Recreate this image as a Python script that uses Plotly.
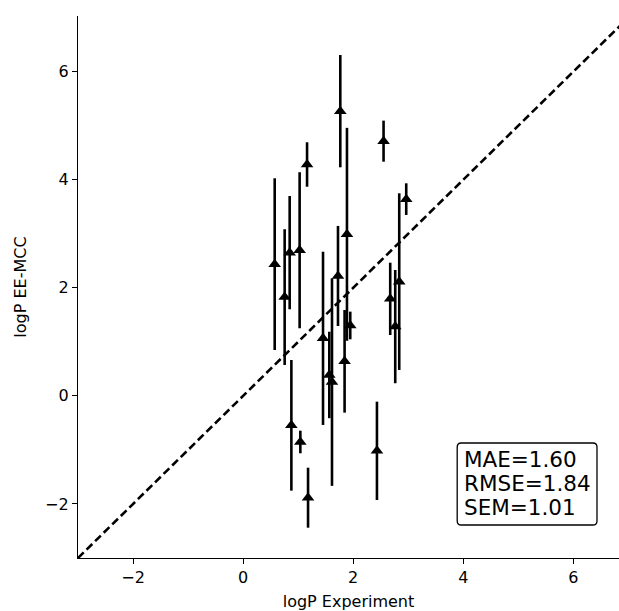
import plotly.graph_objects as go

# Data
x_exp = [0.574, 0.755, 0.846, 1.027, 1.162, 0.877, 1.040, 1.180, 1.452, 1.566, 1.615,
         1.724, 1.766, 1.844, 1.887, 1.947, 2.432, 2.552, 2.673, 2.764, 2.837, 2.964]
y_pred = [2.438, 1.828, 2.651, 2.695, 4.282, -0.545, -0.853, -1.884, 1.065, 0.387, 0.255,
          2.219, 5.269, 0.640, 2.990, 1.303, -1.017, 4.714, 1.796, 1.282, 2.114, 3.641]
y_err = [1.589, 1.256, 1.048, 1.444, 0.411, 1.209, 0.209, 0.555, 1.603, 0.800, 1.920,
         0.926, 1.039, 0.950, 1.970, 0.256, 0.910, 0.380, 0.669, 1.048, 1.635, 0.293]
diag = [-3, 7]
stats_text = ["MAE=1.60", "RMSE=1.84", "SEM=1.01"]
tick_vals = [-2, 0, 2, 4, 6]

FONT = "DejaVu Sans"

fig = go.Figure()

fig.add_trace(go.Scatter(
    x=x_exp, y=y_pred, mode="markers",
    marker=dict(symbol="triangle-up", size=11, color="black", line=dict(width=0)),
    error_y=dict(type="data", array=y_err, visible=True, color="black",
                 thickness=2.6, width=0),
    showlegend=False, hoverinfo="skip",
))

fig.add_trace(go.Scatter(
    x=diag, y=diag, mode="lines",
    line=dict(color="black", width=2.6, dash="8px,4px"),
    showlegend=False, hoverinfo="skip",
))

# rounded text box (data coordinates)
x0, x1, y0, y1 = 3.89, 6.43, -2.389, -0.872
rx, ry = 0.075, 0.075
path = (f"M {x0+rx},{y0} L {x1-rx},{y0} Q {x1},{y0} {x1},{y0+ry} "
        f"L {x1},{y1-ry} Q {x1},{y1} {x1-rx},{y1} "
        f"L {x0+rx},{y1} Q {x0},{y1} {x0},{y1-ry} "
        f"L {x0},{y0+ry} Q {x0},{y0} {x0+rx},{y0} Z")
fig.add_shape(type="path", path=path, xref="x", yref="y",
              line=dict(color="black", width=1.3), fillcolor="white", layer="above")

# one annotation per line so the line spacing matches the reference
line_y = [-1.186, -1.630, -2.066]
for txt, ly in zip(stats_text, line_y):
    fig.add_annotation(
        x=3.975, y=ly, xref="x", yref="y",
        xanchor="left", yanchor="middle", align="left",
        text=txt, showarrow=False,
        font=dict(family=FONT, size=21.5, color="black"),
    )

axis_common = dict(
    showline=True, linecolor="black", linewidth=1.3, mirror=False,
    ticks="outside", ticklen=5, tickwidth=1.3, tickcolor="black",
    showgrid=False, zeroline=False, automargin=False,
    tickfont=dict(family=FONT, size=16, color="black"),
    tickvals=tick_vals,
)

fig.update_xaxes(range=[-3, 6.83], title=dict(text="logP Experiment",
                 font=dict(family=FONT, size=16, color="black"), standoff=10),
                 **axis_common)
fig.update_yaxes(range=[-3, 7.03], title=dict(text="logP EE-MCC",
                 font=dict(family=FONT, size=16, color="black"), standoff=14),
                 **axis_common)

fig.update_layout(
    width=619, height=611,
    margin=dict(l=78, r=0, t=16, b=53),
    plot_bgcolor="white", paper_bgcolor="white",
    font=dict(family=FONT, color="black"),
)

fig.write_html(
    "out.html",
    config={"displayModeBar": False},
    post_script="document.body.style.margin='0';document.body.style.overflow='hidden';",
)
